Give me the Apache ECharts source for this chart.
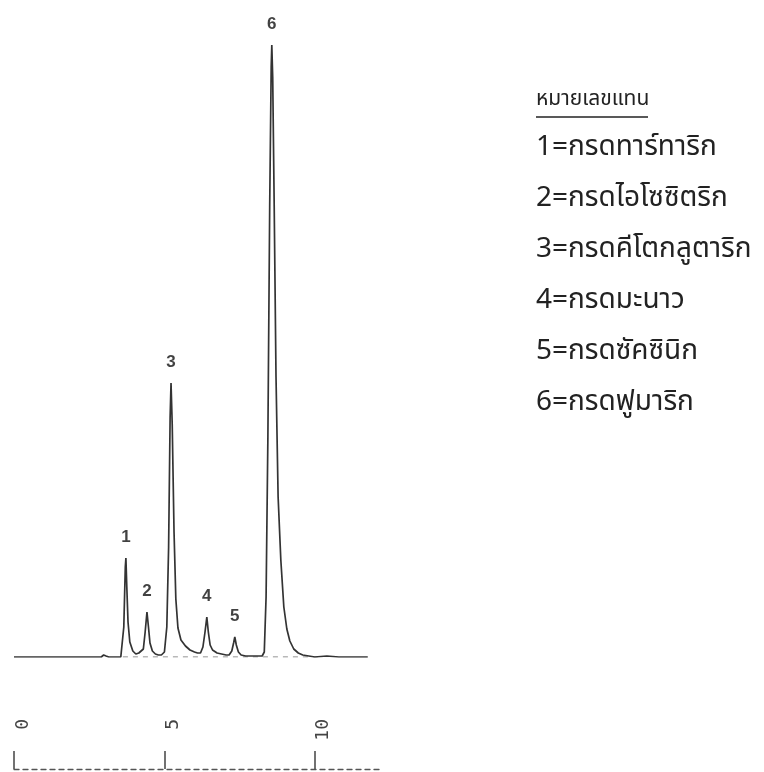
<!DOCTYPE html>
<html>
<head>
<meta charset="utf-8">
<script src="https://cdn.jsdelivr.net/npm/echarts@6/dist/echarts.min.js"></script>
<style>
html,body{margin:0;padding:0;background:#fff;}
#chart{width:764px;height:772px;}
</style>
</head>
<body>
<div id="chart"></div>
<script>
// Retention time (min) and detector signal (arbitrary units)
var retentionTime = [0, 1.0, 2.0, 2.9, 2.98, 3.02, 3.06, 3.15, 3.40, 3.55, 3.60, 3.65, 3.70, 3.72, 3.75, 3.79, 3.85, 3.95, 4.05, 4.15,
  4.20, 4.30, 4.36, 4.42, 4.47, 4.52, 4.60, 4.70, 4.80, 4.90, 5.00, 5.08, 5.14, 5.19, 5.22, 5.26, 5.32, 5.38, 5.45, 5.55, 5.70, 5.85, 6.00, 6.10,
  6.20, 6.28, 6.35, 6.41, 6.46, 6.52, 6.60, 6.75, 6.90, 7.05, 7.15, 7.24, 7.30, 7.34, 7.39, 7.46, 7.55, 7.70, 7.90, 8.05,
  8.25, 8.32, 8.38, 8.44, 8.50, 8.55, 8.57, 8.60, 8.65, 8.71, 8.78, 8.87, 8.97, 9.07, 9.17, 9.30, 9.45, 9.60, 9.80, 10.0, 10.4, 10.8, 11.2, 11.76];
var signal = [0, 0, 0, 0, 2, 3, 1, 0, 0, 0, 2, 30, 90, 99, 70, 35, 15, 6, 3, 4,
  2, 8, 25, 45, 30, 14, 6, 3, 2, 2, 5, 30, 110, 240, 274, 232, 125, 58, 29, 17, 11, 7, 5, 4,
  4, 10, 25, 40, 25, 12, 7, 4, 3, 2, 2, 6, 14, 20, 12, 5, 2, 1, 1, 1,
  1, 5, 60, 220, 450, 590, 612, 580, 450, 280, 160, 97, 50, 28, 16, 8, 4, 2, 1, 0, 1, 0, 0, 0];

// Peak annotations
var peakNames = ['1', '2', '3', '4', '5', '6'];
var peakTimes = [3.72, 4.42, 5.22, 6.41, 7.34, 8.57];
var peakHeights = [99, 45, 274, 40, 20, 612];

// Drawn integration baseline (start/end time)
var baselineTimes = [3.62, 10.1];

// Time axis
var timeMin = 0, timeMax = 12.2, timeTickStep = 5;

// Legend text
var legendTitle = 'หมายเลขแทน';
var legendItems = ['1=กรดทาร์ทาริก', '2=กรดไอโซซิตริก', '3=กรดคีโตกลูตาริก', '4=กรดมะนาว', '5=กรดซัคซินิก', '6=กรดฟูมาริก'];

var thaiFont = '"Noto Sans Thai", "Noto Sans Thai Looped", Loma, Garuda, "Tlwg Typist", "Noto Sans", "DejaVu Sans", sans-serif';

var lineData = retentionTime.map(function (t, i) { return [t, signal[i]]; });
var peakData = peakTimes.map(function (t, i) { return { name: peakNames[i], value: [t, peakHeights[i]] }; });
var baseData = baselineTimes.map(function (t) { return [t, 0]; });

var graphics = [];
graphics.push({ type: 'text', left: 536, top: 90, style: { text: legendTitle, font: '21px ' + thaiFont, fill: '#222' } });
graphics.push({ type: 'line', shape: { x1: 536, y1: 117, x2: 648, y2: 117 }, style: { stroke: '#222', lineWidth: 1.6 } });
legendItems.forEach(function (txt, i) {
  graphics.push({ type: 'text', left: 536, top: 135 + i * 51, style: { text: txt, font: '28px ' + thaiFont, fill: '#222' } });
});

var chart = echarts.init(document.getElementById('chart'), null, { renderer: 'canvas' });
chart.setOption({
  backgroundColor: '#ffffff',
  animation: false,
  grid: [
    { left: 14, right: 383, top: 37, bottom: 115 },
    { left: 14, right: 383, top: 700, bottom: 3 }
  ],
  xAxis: [
    { gridIndex: 0, type: 'value', min: timeMin, max: timeMax, show: false },
    { gridIndex: 1, type: 'value', min: timeMin, max: timeMax, interval: timeTickStep,
      axisLine: { show: true, lineStyle: { type: [5, 4], color: '#555', width: 1.3 } },
      axisTick: { show: true, inside: true, length: 18, lineStyle: { color: '#444', width: 1.5 } },
      axisLabel: { inside: true, rotate: 90, margin: 50, showMaxLabel: false, fontFamily: '"DejaVu Sans Mono", monospace', fontSize: 18, color: '#444', align: 'right', verticalAlign: 'top' },
      splitLine: { show: false }
    }
  ],
  yAxis: [
    { gridIndex: 0, type: 'value', min: 0, max: 620, show: false },
    { gridIndex: 1, type: 'value', min: 0, max: 1, show: false }
  ],
  series: [
    { type: 'line', xAxisIndex: 0, yAxisIndex: 0, data: baseData, symbol: 'none', z: 1,
      lineStyle: { color: '#8a8a8a', width: 1.2, type: [5, 5] } },
    { type: 'line', xAxisIndex: 0, yAxisIndex: 0, data: lineData, symbol: 'none', z: 2,
      lineStyle: { color: '#333', width: 1.7 } },
    { type: 'scatter', xAxisIndex: 0, yAxisIndex: 0, data: peakData, symbolSize: 0, z: 3,
      label: { show: true, position: 'top', distance: 12, formatter: '{b}', fontFamily: '"Liberation Sans", Arial, sans-serif', fontWeight: 'bold', fontSize: 17, color: '#111' } }
  ],
  graphic: graphics
});
</script>
</body>
</html>
